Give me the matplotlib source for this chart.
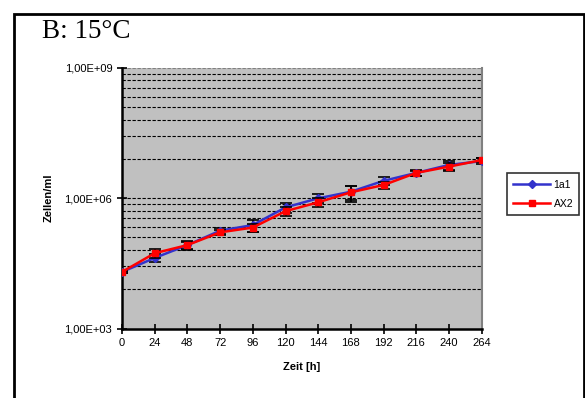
import numpy as np
import matplotlib.pyplot as plt
from matplotlib.patches import Rectangle
from matplotlib.ticker import FixedLocator, NullFormatter

plt.rcParams['font.family'] = ['Liberation Sans', 'DejaVu Sans']

# Zeitpunkte [h]
zeit = [0, 24, 48, 72, 96, 120, 144, 168, 192, 216, 240, 264]

# Zellen/ml
a1 = [2.0e4, 4.2e4, 8.3e4, 1.78e5, 2.4e5, 6.1e5, 9.9e5, 1.40e6, 2.5e6, 3.8e6, 5.8e6, 7.1e6]
ax2 = [2.0e4, 5.4e4, 8.3e4, 1.63e5, 2.1e5, 5.0e5, 8.0e5, 1.36e6, 2.0e6, 3.8e6, 5.3e6, 7.5e6]

# Standardabweichung
a1_err = [1.0e3, 0.9e4, 1.8e4, 3.0e4, 7.0e4, 1.5e5, 2.3e5, 5.0e5, 5.0e5, 6.0e5, 1.3e6, 1.1e6]
ax2_err = [1.0e3, 1.3e4, 1.5e4, 2.5e4, 4.5e4, 1.2e5, 1.8e5, 5.5e5, 4.0e5, 5.0e5, 1.0e6, 0.9e6]

fig = plt.figure(figsize=(5.85, 3.98), dpi=100)

# outer frame
fig.patches.append(Rectangle((14 / 585, -0.02), 569.5 / 585, 1 - 14 / 398 + 0.02,
                             transform=fig.transFigure, fill=False,
                             edgecolor='black', linewidth=2))

fig.text(42 / 585, 1 - 31 / 398, 'B: 15°C', family='Liberation Serif',
         fontsize=19.5, va='center', ha='left')

ax = fig.add_axes([122 / 585, 1 - 328.5 / 398, 359.7 / 585, 260.8 / 398])
ax.set_facecolor('#c0c0c0')
ax.set_yscale('log')
ax.set_ylim(1e3, 1e9)
ax.set_xlim(0, 264)

# Excel-style gridlines: k^3 steps within each 1000x interval
minor = [b * k ** 3 for b in (1e3, 1e6) for k in range(2, 10)]
ax.yaxis.set_major_locator(FixedLocator([1e3, 1e6, 1e9]))
ax.yaxis.set_minor_locator(FixedLocator(minor))
ax.yaxis.set_minor_formatter(NullFormatter())
ax.set_yticklabels(['1,00E+03', '1,00E+06', '1,00E+09'])
for y in minor + [1e6]:
    ax.axhline(y, color='black', linestyle=(0, (3, 1.5)), linewidth=0.8, zorder=1)
ax.axhline(1e9, color='#808080', linestyle=(0, (3, 1.5)), linewidth=0.8, zorder=1)

ax.set_xticks(zeit)
ax.tick_params(axis='both', which='major', direction='inout', length=7, width=1.2,
               labelsize=8)
ax.tick_params(axis='y', which='minor', length=0)

for s in ('left', 'bottom'):
    ax.spines[s].set_linewidth(1.8)
ax.spines['right'].set_color('#808080')
ax.spines['right'].set_linewidth(1.5)
ax.spines['top'].set_visible(False)

ax.errorbar(zeit, a1, yerr=a1_err, color='#3333cc', marker='D', markersize=4,
            linewidth=1.8, ecolor='black', elinewidth=1.2, capsize=4, capthick=1.2,
            label='1a1', zorder=3)
ax.errorbar(zeit, ax2, yerr=ax2_err, color='#ff0000', marker='s', markersize=4.8,
            linewidth=1.8, ecolor='black', elinewidth=1.2, capsize=4, capthick=1.2,
            label='AX2', zorder=4)

ax.set_xlabel('Zeit [h]', fontsize=8, fontweight='bold', labelpad=10)
ax.set_ylabel('Zellen/ml', fontsize=8, fontweight='bold', labelpad=8)

handles, labels = ax.get_legend_handles_labels()
handles = [h[0] for h in handles]
leg = fig.legend(handles, labels, loc='upper left',
                 bbox_to_anchor=(506.7 / 585, 1 - 173.3 / 398), fontsize=7.5,
                 frameon=True, fancybox=False, edgecolor='black',
                 handlelength=3.6, borderpad=0.6, labelspacing=0.9,
                 handletextpad=0.3, borderaxespad=0)
leg.get_frame().set_linewidth(1.2)

fig.savefig('out.png', dpi=100)
